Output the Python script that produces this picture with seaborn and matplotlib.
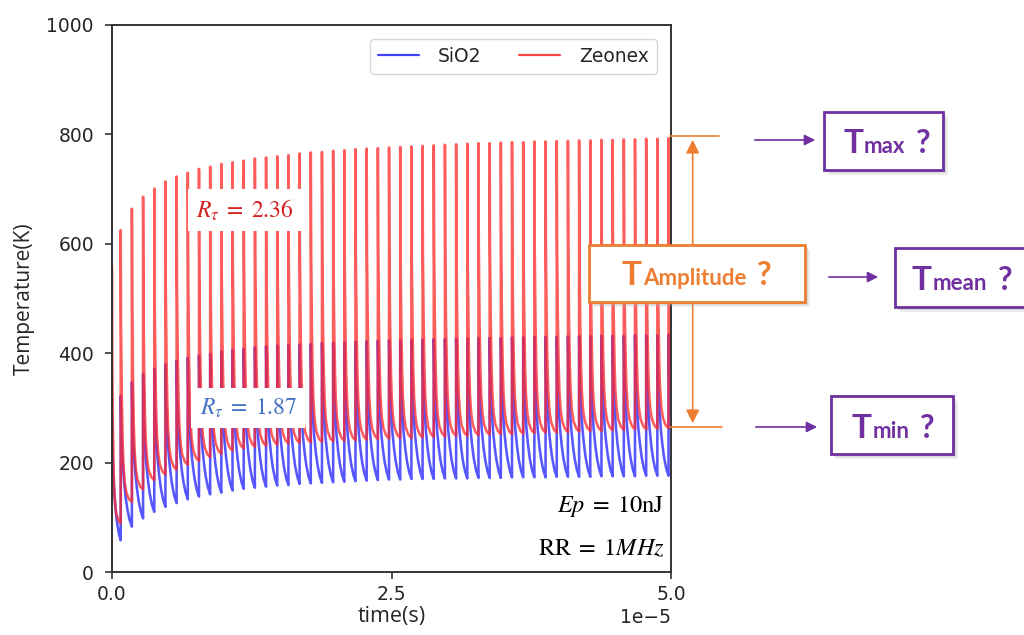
import numpy as np
import pandas as pd
import matplotlib
matplotlib.use("Agg")
import matplotlib.pyplot as plt
import seaborn as sns
from matplotlib.patches import Rectangle, FancyArrowPatch
from matplotlib.lines import Line2D

# ---------------- data ----------------
materials = ["SiO2", "Zeonex"]
period_s = 1e-6            # RR = 1 MHz
first_pulse_s = 0.78e-6    # time of first visible pulse
start_temp = {"SiO2": 290, "Zeonex": 560}

zeonex_peak = [625, 664, 686, 701, 714, 723, 730, 737, 741, 746,
               749, 752, 756, 758, 760, 762, 765, 767, 768, 770,
               771, 773, 774, 775, 776, 777, 778, 779, 780, 781,
               782, 783, 784, 784, 785, 786, 786, 787, 787, 788,
               788, 789, 789, 790, 790, 791, 791, 792, 792, 793]
zeonex_trough = [89, 128, 151, 168, 178, 187, 196, 203, 210, 216, 222,
                 226, 229, 231, 233, 235, 236, 237, 238, 239, 240, 241, 242, 243, 244,
                 245, 245, 246, 247, 248, 249, 249, 250, 251, 252, 252, 253, 254,
                 255, 255, 256, 257, 258, 258, 259, 260, 261, 261, 262, 263]
sio2_peak = [322, 347, 362, 372, 380, 386, 392, 396, 399, 403,
             406, 408, 411, 413, 414, 415, 416, 417, 419, 419,
             420, 421, 422, 423, 424, 424, 425, 425, 426, 426,
             427, 427, 428, 428, 428, 429, 429, 430, 430, 430,
             431, 431, 431, 432, 432, 432, 433, 433, 433, 434]
sio2_trough = [58, 83, 98, 110, 119, 126, 133, 138, 142, 145,
               149, 152, 154, 156, 158, 159, 161, 162, 163, 164,
               165, 166, 167, 168, 169, 169, 170, 170, 170, 171,
               171, 171, 172, 172, 172, 173, 173, 173, 173, 174,
               174, 174, 174, 175, 175, 175, 175, 176, 176, 176]

# shape of one cooling period (fraction of period, fraction of swing)
zeonex_decay_time = [0.0, 0.03, 0.10, 0.17, 0.24, 0.35, 0.50, 0.75, 1.0]
zeonex_decay_temp = [1.0, 0.64, 0.38, 0.23, 0.14, 0.075, 0.035, 0.01, 0.0]
sio2_decay_time = [0.0, 0.05, 0.15, 0.30, 0.45, 0.60, 0.80, 1.0]
sio2_decay_temp = [1.0, 0.74, 0.52, 0.34, 0.22, 0.13, 0.05, 0.0]

y_ticks = [0, 200, 400, 600, 800, 1000]
x_ticks = [0.0, 2.5e-5, 5.0e-5]

# ---------------- build long table ----------------
series = {"SiO2": (sio2_peak, sio2_trough, sio2_decay_time, sio2_decay_temp),
          "Zeonex": (zeonex_peak, zeonex_trough, zeonex_decay_time, zeonex_decay_temp)}
rows = []
for m in materials:
    peaks, troughs, dt, dT = series[m]
    s = np.array(dt)
    f = np.array(dT)
    for si, fi in zip(s, f):
        rows.append((m, first_pulse_s * si, troughs[0] + (start_temp[m] - troughs[0]) * fi))
    n = len(peaks)
    for k in range(n):
        tk = first_pulse_s + k * period_s
        nxt = troughs[k + 1] if k + 1 < n else troughs[-1]
        rows.append((m, tk, troughs[k]))
        for si, fi in zip(s, f):
            rows.append((m, tk + period_s * si, nxt + (peaks[k] - nxt) * fi))
df = pd.DataFrame(rows, columns=["material", "time", "temp"])

# ---------------- plot ----------------
sns.set_theme(style="ticks")
plt.rcParams["font.family"] = ["DejaVu Sans"]
plt.rcParams["mathtext.fontset"] = "stix"

W, H = 1024, 635
fig = plt.figure(figsize=(W / 100, H / 100), dpi=100)
ax = fig.add_axes([112 / W, 1 - 572 / H, 559 / W, 547 / H])

palette = {"SiO2": "#1f1fff", "Zeonex": "#ff2626"}
sns.lineplot(data=df, x="time", y="temp", hue="material", hue_order=materials,
             palette=palette, estimator=None, sort=False, lw=1.85, alpha=0.75, ax=ax)

ax.set_xlim(0, 5e-5)
ax.set_ylim(0, 1000)
ax.set_yticks(y_ticks)
ax.set_xticks(x_ticks)
ax.tick_params(axis="both", labelsize=13.5, length=5, width=1.2, color="#333333")
ax.tick_params(axis="y", pad=8)
ax.tick_params(axis="x", pad=4)
for sp in ax.spines.values():
    sp.set_color("#333333")
    sp.set_linewidth(1.4)
ax.ticklabel_format(axis="x", style="sci", scilimits=(0, 0), useMathText=False)
ax.xaxis.get_offset_text().set_fontsize(13.5)
ax.set_xlabel("time(s)", fontsize=15.5, family="Open Sans", labelpad=2)
ax.set_ylabel("Temperature(K)", fontsize=15, family="Open Sans", labelpad=8)

handles, labels = ax.get_legend_handles_labels()
leg = ax.legend(handles, labels, ncol=2, loc="upper right", fontsize=13.5,
                handlelength=2.2, handletextpad=1.0, columnspacing=2.0, frameon=True,
                bbox_to_anchor=(0.985, 0.985), borderpad=0.42, borderaxespad=0.3)
leg.get_frame().set_edgecolor("#cccccc")
for h in leg.get_lines():
    h.set_alpha(0.85)
    h.set_linewidth(1.6)

ax.text(1.19e-5, 662, r"$R_\tau\;=\;2.36$", color="#d42020", fontsize=17,
        ha="center", va="center",
        bbox=dict(facecolor="white", edgecolor="none", pad=6))
ax.text(1.22e-5, 300, r"$R_\tau\;=\;1.87$", color="#4472c4", fontsize=17,
        ha="center", va="center",
        bbox=dict(facecolor="white", edgecolor="none", pad=6))
ax.text(4.94e-5, 119, r"$Ep\;=\;10\mathrm{nJ}$", color="black", fontsize=17.5,
        ha="right", va="center")
ax.text(4.94e-5, 44, r"$\mathrm{RR}\;=\;1MHz$", color="black", fontsize=17.5,
        ha="right", va="center")

# ---------------- right-side annotation (figure pixels, y from top) ----------------
purple = "#7030a0"
orange = "#ed7d31"


def fx(x):
    return x / W


def fy(y):
    return 1 - y / H


def box(x0, y0, x1, y1, ec):
    for d, a in ((5, 0.22), (3, 0.32)):
        sh = Rectangle((fx(x0 + d), fy(y1 + d)), fx(x1 - x0), (y1 - y0) / H,
                       transform=fig.transFigure, facecolor="#aaaaaa", edgecolor="none",
                       alpha=a, zorder=5)
        fig.add_artist(sh)
    r = Rectangle((fx(x0), fy(y1)), fx(x1 - x0), (y1 - y0) / H,
                  transform=fig.transFigure, facecolor="white", edgecolor=ec,
                  lw=2, zorder=6)
    fig.add_artist(r)


def arrow(x0, x1, y, color):
    a = FancyArrowPatch((fx(x0), fy(y)), (fx(x1), fy(y)), transform=fig.transFigure,
                        arrowstyle="-|>", mutation_scale=16, color=color, lw=1.2,
                        zorder=7)
    fig.add_artist(a)


renderer = fig.canvas.get_renderer()


def label(x, ybase, sub, color):
    parts = [("T", 24, 1), (sub, 16, 10), ("?", 23, 0)]
    cx = x
    for txt, size, gap in parts:
        t = fig.text(fx(cx), fy(ybase), txt, fontsize=size, color=color,
                     family="Lato", weight="bold", ha="left", va="baseline",
                     zorder=8)
        bb = t.get_window_extent(renderer=renderer)
        cx += bb.width + gap


# orange guide lines + double arrow
fig.add_artist(Line2D([fx(670), fx(719)], [fy(136), fy(136)], transform=fig.transFigure,
                      color=orange, lw=1.2, zorder=4))
fig.add_artist(Line2D([fx(670), fx(722)], [fy(427), fy(427)], transform=fig.transFigure,
                      color=orange, lw=1.2, zorder=4))
fig.add_artist(FancyArrowPatch((fx(692.7), fy(137)), (fx(692.7), fy(426)),
                               transform=fig.transFigure, arrowstyle="<|-|>",
                               mutation_scale=20, color=orange, lw=1.2, zorder=4))

box(589, 245, 805, 302, orange)
label(622, 285, "Amplitude", orange)

box(824, 112, 943, 170, purple)
label(843, 153, "max", purple)
arrow(752, 818, 140, purple)

box(895, 248, 1030, 307, purple)
label(912, 290, "mean", purple)
arrow(826, 881, 277, purple)

box(831, 396, 953, 454, purple)
label(852, 438, "min", purple)
arrow(753, 820, 427, purple)

fig.savefig("out.png", dpi=100)
